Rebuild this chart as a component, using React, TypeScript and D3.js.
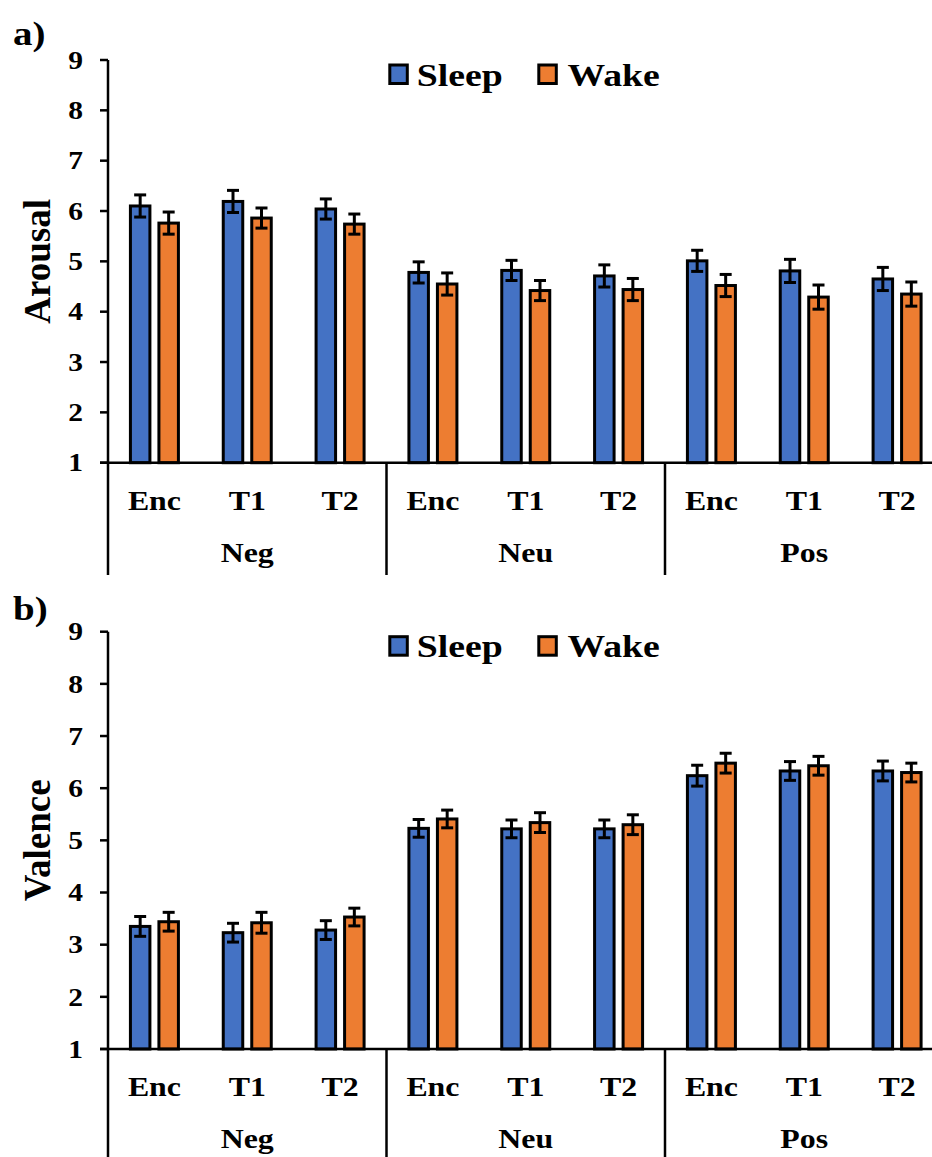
import React from "react";
import * as d3 from "d3";

const groups = ["Neg", "Neu", "Pos"];
const times = ["Enc", "T1", "T2"];
const series = ["Sleep", "Wake"];
const yTicks = [1, 2, 3, 4, 5, 6, 7, 8, 9];

// values in order Neg(Enc,T1,T2), Neu(Enc,T1,T2), Pos(Enc,T1,T2)
const arousalSleep = [6.1, 6.19, 6.04, 4.78, 4.82, 4.71, 5.01, 4.81, 4.65];
const arousalWake = [5.76, 5.86, 5.74, 4.55, 4.42, 4.44, 4.52, 4.29, 4.35];
const arousalSleepErr = [0.22, 0.22, 0.2, 0.21, 0.2, 0.22, 0.21, 0.23, 0.23];
const arousalWakeErr = [0.22, 0.2, 0.2, 0.22, 0.2, 0.22, 0.22, 0.24, 0.24];

const valenceSleep = [3.35, 3.23, 3.28, 5.23, 5.22, 5.22, 6.24, 6.33, 6.33];
const valenceWake = [3.44, 3.42, 3.53, 5.41, 5.34, 5.3, 6.48, 6.43, 6.3];
const valenceSleepErr = [0.19, 0.18, 0.18, 0.17, 0.17, 0.17, 0.2, 0.18, 0.19];
const valenceWakeErr = [0.18, 0.2, 0.17, 0.17, 0.19, 0.19, 0.19, 0.18, 0.18];

const COLORS = ["#4472C4", "#ED7D31"];
const FONT = "'Liberation Serif', 'Times New Roman', serif";
const SX = 1.18;

const W = 932;
const H = 1157;
const X0 = 108;
const X1 = 943.5;

type PanelProps = {
  top: number;
  bottom: number;
  sepEnd: number;
  letter: string;
  letterY: number;
  title: string;
  sleep: number[];
  wake: number[];
  sleepErr: number[];
  wakeErr: number[];
};

function Panel(p: PanelProps) {
  const y = d3.scaleLinear().domain([1, 9]).range([p.bottom, p.top]);
  const cats = d3.range(groups.length * times.length);
  const x = d3.scaleBand<number>().domain(cats).range([X0, X1]).padding(0);
  const xg = d3.scaleBand<string>().domain(groups).range([X0, X1]).padding(0);
  const inner = d3
    .scaleBand<string>()
    .domain(series)
    .range([-24, 24])
    .paddingInner(0.316);
  const bw = inner.bandwidth();
  const vals = [p.sleep, p.wake];
  const errs = [p.sleepErr, p.wakeErr];
  const capW = 12;
  const legendY = p.top;

  return (
    <g>
      <text
        transform={`translate(13,${p.letterY}) scale(${SX},1)`}
        fontFamily={FONT}
        fontWeight="bold"
        fontSize={33}
      >
        {p.letter}
      </text>
      {/* y title */}
      <text
        transform={`translate(50,${(p.top + p.bottom) / 2}) rotate(-90)`}
        textAnchor="middle"
        fontFamily={FONT}
        fontWeight="bold"
        fontSize={37}
      >
        {p.title}
      </text>
      {/* bars */}
      {cats.map((c) =>
        series.map((s, si) => {
          const cx = (x(c) as number) + x.bandwidth() / 2;
          const bx = cx + (inner(s) as number);
          const v = vals[si][c];
          return (
            <rect
              key={`b${c}${s}`}
              x={bx}
              y={y(v)}
              width={bw}
              height={y(1) - y(v)}
              fill={COLORS[si]}
              stroke="#000"
              strokeWidth={3}
            />
          );
        })
      )}
      {/* error bars */}
      {cats.map((c) =>
        series.map((s, si) => {
          const cx = (x(c) as number) + x.bandwidth() / 2;
          const ex = cx + (inner(s) as number) + bw / 2;
          const v = vals[si][c];
          const e = errs[si][c];
          return (
            <g key={`e${c}${s}`} stroke="#000" strokeWidth={3}>
              <line x1={ex} x2={ex} y1={y(v + e)} y2={y(v - e)} />
              <line x1={ex - capW / 2} x2={ex + capW / 2} y1={y(v + e)} y2={y(v + e)} />
              <line x1={ex - capW / 2} x2={ex + capW / 2} y1={y(v - e)} y2={y(v - e)} />
            </g>
          );
        })
      )}
      {/* y axis */}
      <line x1={X0} x2={X0} y1={y(9)} y2={p.sepEnd} stroke="#000" strokeWidth={2.5} />
      {yTicks.map((t) => (
        <g key={`t${t}`}>
          <line x1={X0 - 8} x2={X0} y1={y(t)} y2={y(t)} stroke="#000" strokeWidth={2.5} />
          <text
            transform={`translate(83,${y(t) + 8.7}) scale(${SX},1)`}
            textAnchor="end"
            fontFamily={FONT}
            fontWeight="bold"
            fontSize={25}
          >
            {t}
          </text>
        </g>
      ))}
      {/* x axis */}
      <line x1={X0 - 8} x2={W} y1={y(1)} y2={y(1)} stroke="#000" strokeWidth={2.5} />
      {groups.map((g, gi) =>
        gi > 0 ? (
          <line
            key={`s${g}`}
            x1={xg(g) as number}
            x2={xg(g) as number}
            y1={y(1)}
            y2={p.sepEnd}
            stroke="#000"
            strokeWidth={2.5}
          />
        ) : null
      )}
      {cats.map((c) => (
        <text
          key={`c${c}`}
          transform={`translate(${(x(c) as number) + x.bandwidth() / 2},${y(1) + 47.3}) scale(${SX},1)`}
          textAnchor="middle"
          fontFamily={FONT}
          fontWeight="bold"
          fontSize={27}
        >
          {times[c % times.length]}
        </text>
      ))}
      {groups.map((g) => (
        <text
          key={`g${g}`}
          transform={`translate(${(xg(g) as number) + xg.bandwidth() / 2},${y(1) + 99}) scale(${SX},1)`}
          textAnchor="middle"
          fontFamily={FONT}
          fontWeight="bold"
          fontSize={27}
        >
          {g}
        </text>
      ))}
      {/* legend */}
      {series.map((s, si) => {
        const bxs = [389.8, 538.8];
        const txs = [416.7, 567.5];
        return (
          <g key={`l${s}`}>
            <rect
              x={bxs[si]}
              y={legendY + 5}
              width={17.5}
              height={18.5}
              fill={COLORS[si]}
              stroke="#000"
              strokeWidth={3}
            />
            <text
              transform={`translate(${txs[si]},${legendY + 25.5}) scale(${SX},1)`}
              fontFamily={FONT}
              fontWeight="bold"
              fontSize={32}
            >
              {s}
            </text>
          </g>
        );
      })}
    </g>
  );
}

export default function App() {
  return (
    <svg
      width={W}
      height={H}
      viewBox={`0 0 ${W} ${H}`}
      style={{ position: "absolute", left: 0, top: 0, background: "#fff" }}
    >
      <rect x={0} y={0} width={W} height={H} fill="#fff" />
      <Panel
        top={60}
        bottom={462.7}
        sepEnd={575}
        letter="a)"
        letterY={45}
        title="Arousal"
        sleep={arousalSleep}
        wake={arousalWake}
        sleepErr={arousalSleepErr}
        wakeErr={arousalWakeErr}
      />
      <Panel
        top={631.7}
        bottom={1049}
        sepEnd={1157}
        letter="b)"
        letterY={620}
        title="Valence"
        sleep={valenceSleep}
        wake={valenceWake}
        sleepErr={valenceSleepErr}
        wakeErr={valenceWakeErr}
      />
    </svg>
  );
}
